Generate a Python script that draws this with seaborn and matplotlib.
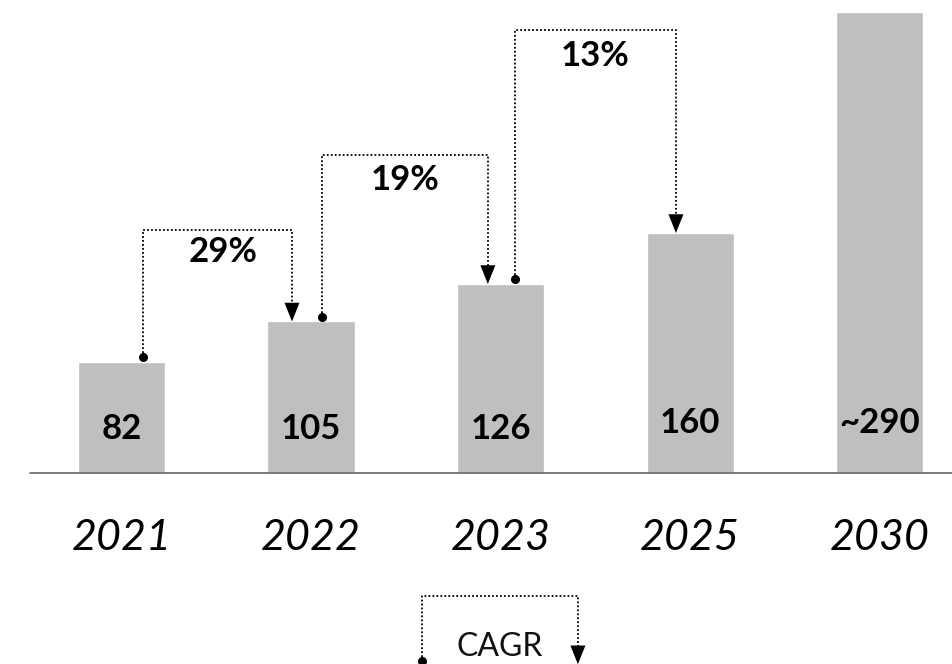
import matplotlib
matplotlib.use("Agg")
import matplotlib.pyplot as plt
import seaborn as sns
import pandas as pd

# ---- data ----
years = ["2021", "2022", "2023", "2025", "2030"]
bar_heights = [74, 101, 126, 160, 307]          # visual bar heights
bar_labels = ["82", "105", "126", "160", "~290"]
cagr_labels = ["29%", "19%", "13%"]
cagr_from = [0, 1, 2]
cagr_to = [1, 2, 3]
cagr_top = [162, 212, 295]

sns.set_theme(style="white")
plt.rcParams["font.family"] = ["Lato", "DejaVu Sans"]

BAR = "#bfbfbf"
fig = plt.figure(figsize=(9.52, 6.64), dpi=100)
ax = fig.add_axes([0, 191 / 664, 1, 473 / 664])

df = pd.DataFrame({"year": years, "value": bar_heights})
sns.barplot(data=df, x="year", y="value", color=BAR, saturation=1,
            width=0.46, ax=ax)

ax.set_xlim(-0.640, 4.381)
ax.set_ylim(0, 315.33)
for s in ax.spines.values():
    s.set_visible(False)
ax.set_yticks([])
ax.set_xlabel("")
ax.set_ylabel("")
ax.tick_params(axis="x", length=0, pad=33)
for t in ax.get_xticklabels():
    t.set_fontsize(31)
    t.set_fontstyle("italic")
    t.set_color("black")
ax.axhline(0, xmin=30 / 952, xmax=1, color="#666666", lw=1.2, clip_on=False)

# value labels inside bars
for i, (h, lab) in enumerate(zip(bar_heights, bar_labels)):
    y = 29.5 if i < 3 else 33.5
    ax.text(i, y, lab, ha="center", va="center", fontsize=25,
            fontweight="bold", color="black")

def bracket(x0, y0, x1, ytop, y1, clip=True):
    ax.plot([x0, x0, x1, x1], [y0, ytop, ytop, y1 + 9],
            ls=(0, (1, 1.2)), color="black", lw=1.3, clip_on=clip)
    ax.plot([x0], [y0], marker="o", ms=5.5, color="black", clip_on=clip)
    ax.annotate("", xy=(x1, y1), xytext=(x1, y1 + 9.5),
                arrowprops=dict(arrowstyle="-|>,head_length=0.75,head_width=0.3",
                                color="black", lw=0, shrinkA=0, shrinkB=0,
                                mutation_scale=18),
                annotation_clip=False)

start_off = [0.114, 0.058, 0.076]
end_off = [-0.100, -0.067, -0.075]
label_drop = [15, 17, 17]
for k in range(3):
    a, b = cagr_from[k], cagr_to[k]
    x0 = a + start_off[k]
    x1 = b + end_off[k]
    bracket(x0, bar_heights[a] + 3, x1, cagr_top[k], bar_heights[b])
    ax.text((x0 + x1) / 2 + (0.03 if k == 0 else 0), cagr_top[k] - label_drop[k],
            cagr_labels[k], ha="center", va="center", fontsize=25,
            fontweight="bold", color="black")

# legend
bracket(1.584, -125, 2.408, -82, -127.5, clip=False)
ax.text(1.997, -116, "CAGR", ha="center", va="center", fontsize=23,
        fontweight="normal", color="#111111", clip_on=False)

fig.savefig("out.png", dpi=100)
